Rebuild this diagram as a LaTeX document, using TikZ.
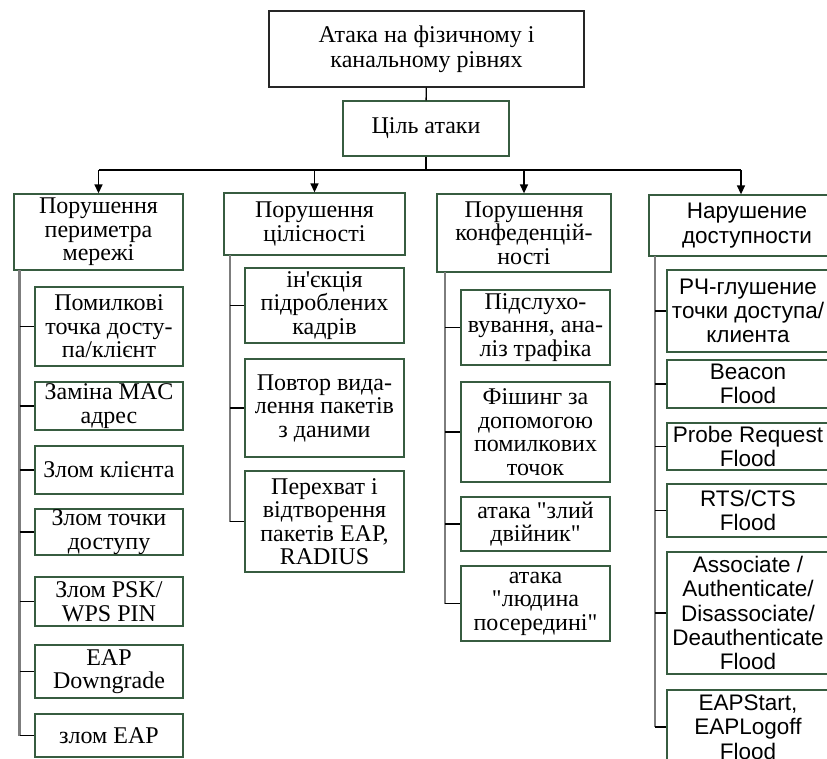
\documentclass[tikz,border=0pt]{standalone}
\usepackage{fontspec}
\usetikzlibrary{arrows.meta}
\newfontfamily\timesfnt{Liberation Serif}[Ligatures=ResetAll]
\newfontfamily\arialfnt{Liberation Sans}
\definecolor{boxgreen}{RGB}{55,92,64}
\definecolor{spinegray}{RGB}{125,125,125}

\begin{document}
\begin{tikzpicture}[x=1pt, y=-1pt,
    uabox/.style={draw=boxgreen, line width=1.3pt, fill=white, align=center, inner sep=0pt,
      font=\timesfnt\fontsize{24}{23.5}\selectfont},
    rubox/.style={uabox, font=\arialfnt\fontsize{22.5}{24.3}\selectfont},
    spine/.style={draw=spinegray, line width=2.4pt},
    twig/.style={draw=black, line width=1.4pt},
    down/.style={draw=black, line width=1.4pt, -{Triangle[length=9pt, width=8pt]}}]

    \useasboundingbox (0,0) rectangle (827,758);
    \clip (0,0) rectangle (827,758);

    % Draw nodes
    \node[uabox, draw=black!85, minimum width=315pt, minimum height=76pt] (attack) at (426.5,49) {Атака на фізичному і\\[1.5pt]канальному рівнях};
    \node[uabox, minimum width=166pt, minimum height=55pt] (goal) at (426,128.5) {Ціль атаки};

    \node[uabox, minimum width=169pt, minimum height=76pt] (perim) at (98.5,232) {Порушення\\периметра\\мережі};
    \node[uabox, minimum width=181pt, minimum height=62pt] (integ) at (314.5,224) {Порушення\\цілісності};
    \node[uabox, minimum width=174pt, minimum height=78pt] (confid) at (524,233) {Порушення\\конфеденцій-\\ності};
    \node[rubox, minimum width=196pt, minimum height=61pt] (avail) at (747,225.5) {Нарушение\\доступности};

    % perimeter
    \node[uabox, minimum width=148pt, minimum height=79pt] (rogue) at (109,326.5) {Помилкові\\точка досту-\\па/клієнт};
    \node[uabox, minimum width=148pt, minimum height=48pt] (macspoof) at (109,406) {Заміна MAC\\адрес};
    \node[uabox, minimum width=148pt, minimum height=48pt] (clienthack) at (109,470) {Злом клієнта};
    \node[uabox, minimum width=148pt, minimum height=46pt] (aphack) at (109,532) {Злом точки\\доступу};
    \node[uabox, minimum width=148pt, minimum height=49pt] (pskhack) at (109,601.5) {Злом PSK/\\WPS PIN};
    \node[uabox, minimum width=148pt, minimum height=53pt] (downgrade) at (109,671.5) {EAP\\Downgrade};
    \node[uabox, minimum width=148pt, minimum height=43pt] (eaphack) at (109,735.5) {злом EAP};

    % integrity
    \node[uabox, minimum width=159pt, minimum height=75pt] (inject) at (324.5,305.5) {ін'єкція\\підроблених\\кадрів};
    \node[uabox, minimum width=159pt, minimum height=98pt] (replay) at (324.5,408) {Повтор вида-\\лення пакетів\\з даними};
    \node[uabox, minimum width=159pt, minimum height=101pt] (radius) at (324.5,521.5) {Перехват і\\відтворення\\пакетів EAP,\\RADIUS};

    % confidentiality
    \node[uabox, minimum width=149pt, minimum height=75pt] (sniff) at (535.5,327.5) {Підслухо-\\вування, ана-\\ліз трафіка};
    \node[uabox, minimum width=149pt, minimum height=100pt] (phish) at (535.5,432) {Фішинг за\\допомогою\\помилкових\\точок};
    \node[uabox, minimum width=149pt, minimum height=54pt] (twin) at (535.5,524) {атака "злий\\двійник"};
    \node[uabox, minimum width=149pt, minimum height=75pt] (mitm) at (535.5,603.5) {атака\\"людина\\посередині"};

    % availability
    \node[rubox, minimum width=162pt, minimum height=82pt] (jam) at (748,311) {РЧ-глушение\\точки доступа/\\клиента};
    \node[rubox, minimum width=162pt, minimum height=48pt] (beacon) at (748,384) {Beacon\\Flood};
    \node[rubox, minimum width=162pt, minimum height=47pt] (probe) at (748,446.5) {Probe Request\\Flood};
    \node[rubox, minimum width=162pt, minimum height=53pt] (rtscts) at (748,510.5) {RTS/CTS\\Flood};
    \node[rubox, minimum width=162pt, minimum height=122pt] (deauth) at (748,613) {Associate /\\Authenticate/\\Disassociate/\\Deauthenticate\\Flood};
    \node[rubox, minimum width=162pt, minimum height=74pt] (eapstart) at (748,727) {EAPStart,\\EAPLogoff\\Flood};

    % Draw connections
    \coordinate (bar) at (741,170);
    \draw[twig] (attack) -- (goal);
    \draw[twig] (goal.south) -- (goal.south |- bar);
    \draw[twig] (perim.north |- bar) -- (bar);
    \draw[down] (perim.north |- bar) -- (perim.north);
    \draw[down] (integ.north |- bar) -- (integ.north);
    \draw[down] (confid.north |- bar) -- (confid.north);
    \draw[down] (bar) -- (bar |- avail.north);

    % spines
    \coordinate (s1) at (19.5,270);
    \coordinate (s2) at (230,255);
    \coordinate (s3) at (445,272);
    \coordinate (s4) at (655,256);
    \draw[spine] (s1) -- (s1 |- eaphack.west);
    \draw[spine] (s2) -- (s2 |- radius.west);
    \draw[spine] (s3) -- (s3 |- mitm.west);
    \draw[spine] (s4) -- (s4 |- eapstart.west);

    \draw[twig] (s1 |- rogue.west) -- (rogue.west);
    \draw[twig] (s1 |- macspoof.west) -- (macspoof.west);
    \draw[twig] (s1 |- clienthack.west) -- (clienthack.west);
    \draw[twig] (s1 |- aphack.west) -- (aphack.west);
    \draw[twig] (s1 |- pskhack.west) -- (pskhack.west);
    \draw[twig] (s1 |- downgrade.west) -- (downgrade.west);
    \draw[twig] (s1 |- eaphack.west) -- (eaphack.west);

    \draw[twig] (s2 |- inject.west) -- (inject.west);
    \draw[twig] (s2 |- replay.west) -- (replay.west);
    \draw[twig] (s2 |- radius.west) -- (radius.west);

    \draw[twig] (s3 |- sniff.west) -- (sniff.west);
    \draw[twig] (s3 |- phish.west) -- (phish.west);
    \draw[twig] (s3 |- twin.west) -- (twin.west);
    \draw[twig] (s3 |- mitm.west) -- (mitm.west);

    \draw[twig] (s4 |- jam.west) -- (jam.west);
    \draw[twig] (s4 |- beacon.west) -- (beacon.west);
    \draw[twig] (s4 |- probe.west) -- (probe.west);
    \draw[twig] (s4 |- rtscts.west) -- (rtscts.west);
    \draw[twig] (s4 |- deauth.west) -- (deauth.west);
    \draw[twig] (s4 |- eapstart.west) -- (eapstart.west);
\end{tikzpicture}
\end{document}
